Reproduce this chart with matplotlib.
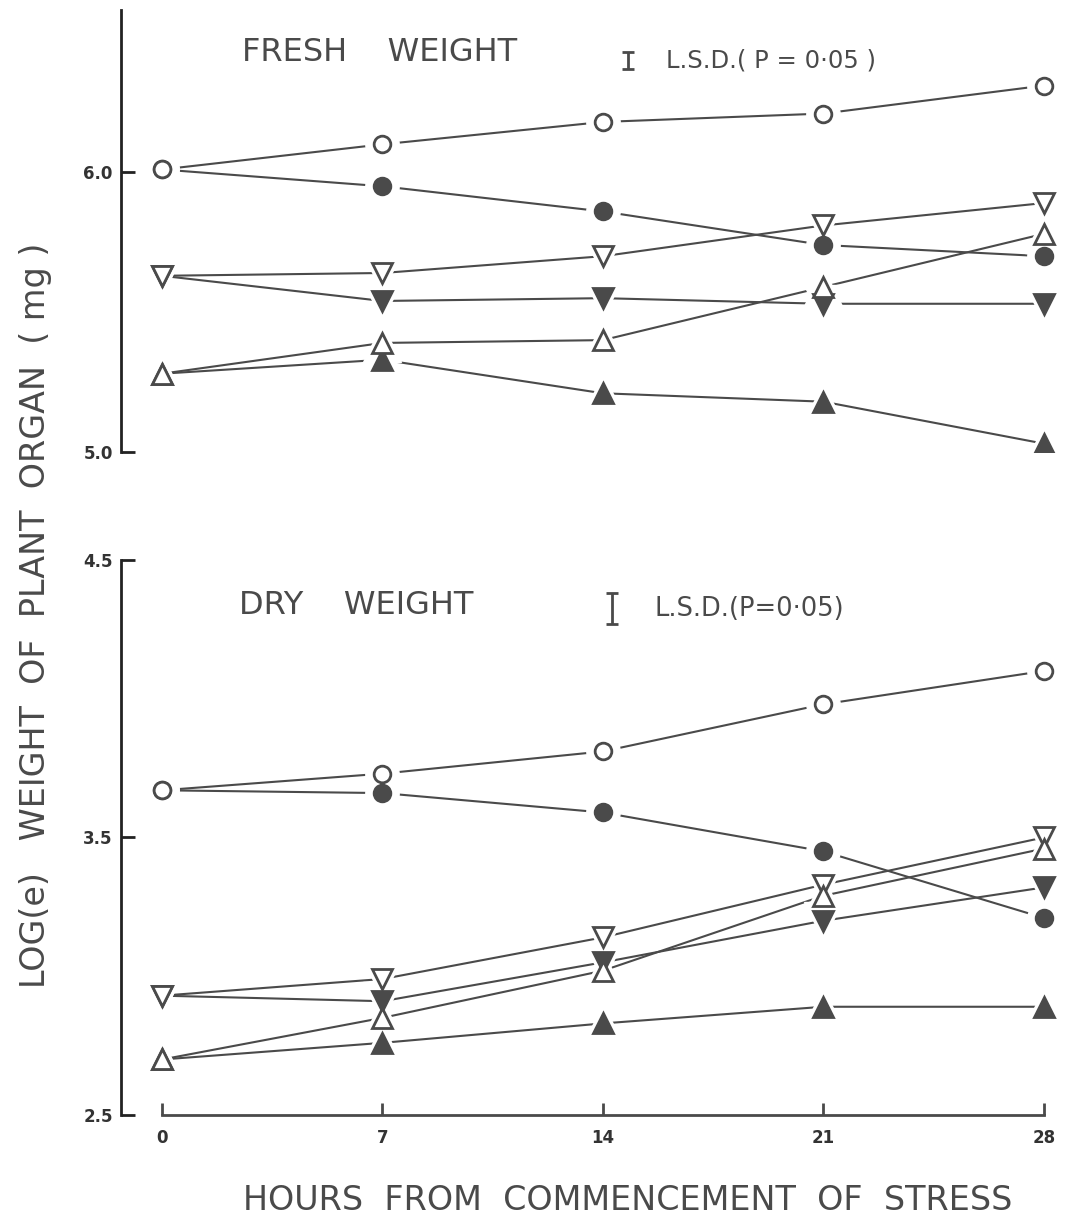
import numpy as np
import matplotlib.pyplot as plt

# hours after stress begins
hours = [0, 7, 14, 21, 28]

# log(e) fresh weight
fresh_open_circle = [6.01, 6.10, 6.18, 6.21, 6.31]
fresh_fill_circle = [6.01, 5.95, 5.86, 5.74, 5.70]
fresh_open_down = [5.63, 5.64, 5.70, 5.81, 5.89]
fresh_fill_down = [5.63, 5.54, 5.55, 5.53, 5.53]
fresh_open_up = [5.28, 5.39, 5.40, 5.59, 5.78]
fresh_fill_up = [5.28, 5.33, 5.21, 5.18, 5.03]

# log(e) dry weight
dry_open_circle = [3.67, 3.73, 3.81, 3.98, 4.10]
dry_fill_circle = [3.67, 3.66, 3.59, 3.45, 3.21]
dry_open_down = [2.93, 2.99, 3.14, 3.33, 3.50]
dry_fill_down = [2.93, 2.91, 3.05, 3.20, 3.32]
dry_open_up = [2.70, 2.85, 3.02, 3.29, 3.46]
dry_fill_up = [2.70, 2.76, 2.83, 2.89, 2.89]

lsd_fresh = 0.06
lsd_dry = 0.115

ink = '#4a4a4a'
plt.rcParams['font.family'] = 'DejaVu Sans'

fig = plt.figure(figsize=(10.74, 12.25), dpi=100)
ax1 = fig.add_axes([0.1127, 0.631, 0.8827, 0.3608])
ax2 = fig.add_axes([0.1127, 0.0898, 0.8827, 0.4531])

# order: filled symbols first so the open ones sit on top where they share a point
styles = [('o', ink, 12), ('v', ink, 15), ('^', ink, 15),
          ('o', 'white', 12), ('v', 'white', 15), ('^', 'white', 15)]


def draw(ax, series):
    for ys in series:
        ax.plot(hours, ys, color=ink, lw=1.5, zorder=2)
    # white halo so lines stop short of the symbols
    for ys, (m, fc, ms) in zip(series, styles):
        ax.plot(hours, ys, ls='none', marker=m, ms=ms + 12, mfc='white',
                mec='white', zorder=3)
    for ys, (m, fc, ms) in zip(series, styles):
        ax.plot(hours, ys, ls='none', marker=m, ms=ms, mfc=fc, mec=ink,
                mew=2, zorder=4)
    ax.set_xlim(-1.3, 28.8)
    for s in ['top', 'right']:
        ax.spines[s].set_visible(False)
    ax.spines['left'].set_color('#222222')
    ax.spines['left'].set_linewidth(2)
    ax.tick_params(axis='y', direction='in', length=10, width=2,
                   colors='#222222', labelcolor='#333333', labelsize=12, pad=6)


draw(ax1, [fresh_fill_circle, fresh_fill_down, fresh_fill_up,
           fresh_open_circle, fresh_open_down, fresh_open_up])
ax1.set_ylim(5.0, 6.58)
ax1.set_yticks([5.0, 6.0])
ax1.set_yticklabels(['5.0', '6.0'], fontweight='bold')
ax1.spines['bottom'].set_visible(False)
ax1.set_xticks([])
ax1.text(2.55, 6.43, 'FRESH    WEIGHT', fontsize=23, color=ink, va='center')
ax1.errorbar([14.8], [6.40], yerr=[[lsd_fresh / 2], [lsd_fresh / 2]],
             fmt='none', ecolor=ink, elinewidth=2, capsize=4, capthick=2)
ax1.text(16.0, 6.40, 'L.S.D.( P = 0·05 )', fontsize=17.5, color=ink,
         va='center')

draw(ax2, [dry_fill_circle, dry_fill_down, dry_fill_up,
           dry_open_circle, dry_open_down, dry_open_up])
ax2.set_ylim(2.5, 4.5)
ax2.set_yticks([2.5, 3.5, 4.5])
ax2.set_yticklabels(['2.5', '3.5', '4.5'], fontweight='bold')
ax2.spines['bottom'].set_bounds(0, 28)
ax2.spines['bottom'].set_color(ink)
ax2.spines['bottom'].set_linewidth(2)
ax2.set_xticks(hours)
ax2.set_xticklabels([str(h) for h in hours], fontweight='bold')
ax2.tick_params(axis='x', direction='in', length=9, width=2, colors=ink,
                labelcolor='#333333', labelsize=12, pad=10)
ax2.text(2.45, 4.335, 'DRY    WEIGHT', fontsize=23, color=ink, va='center')
ax2.errorbar([14.3], [4.325], yerr=[[lsd_dry / 2], [lsd_dry / 2]],
             fmt='none', ecolor=ink, elinewidth=2, capsize=4, capthick=2)
ax2.text(15.65, 4.325, 'L.S.D.(P=0·05)', fontsize=18.5, color=ink,
         va='center')

fig.text(0.584, 0.02, 'HOURS  FROM  COMMENCEMENT  OF  STRESS', fontsize=24,
         color=ink, ha='center', va='center')
fig.text(0.033, 0.498, 'LOG(e)   WEIGHT  OF  PLANT  ORGAN  ( mg )',
         fontsize=24, color=ink, rotation=90, ha='center', va='center')

fig.savefig('out.png', dpi=100)
